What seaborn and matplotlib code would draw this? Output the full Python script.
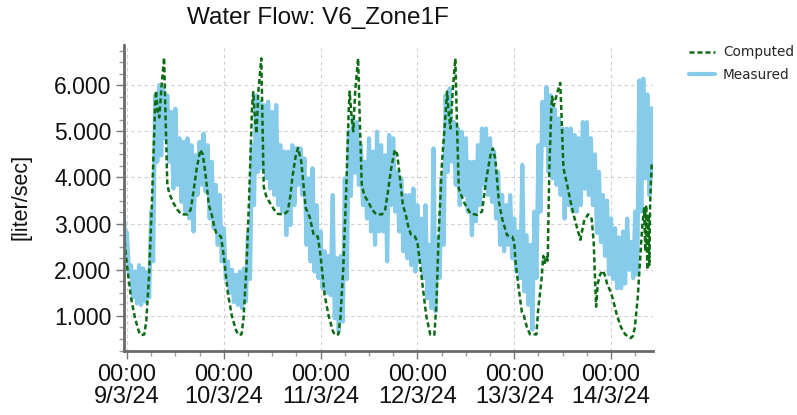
import numpy as np
import pandas as pd
import matplotlib
matplotlib.use("Agg")
import matplotlib.pyplot as plt
import matplotlib.dates as mdates
from matplotlib.ticker import FuncFormatter, MultipleLocator
import seaborn as sns

# ---------------- data ----------------
title = "Water Flow: V6_Zone1F"
y_label = "[liter/sec]"
series_names = ["Computed", "Measured"]
origin = "2024-03-09 00:00"          # hours below are counted from here

computed_hours = [
    -0.75, 0.0, 1.0, 2.0, 3.0, 3.5, 4.3, 4.8, 5.5, 6.2, 7.0, 7.2, 7.6, 8.0, 8.6, 9.2, 9.6, 10.0, 10.5, 11.5,
    12.5, 13.5, 15.0, 15.8, 16.5, 17.3, 18.2, 18.8, 19.5, 20.3, 21.0, 21.6, 22.2, 23.3,
    24.0, 25.0, 26.0, 27.0, 27.6, 28.4, 28.9, 29.6, 30.3, 31.0, 31.3, 31.7, 32.1, 32.6, 33.3, 33.6, 33.9, 34.5,
    35.3, 36.5, 37.4, 39.0, 39.9, 40.5, 41.0, 41.8, 42.4, 43.2, 43.7, 44.3, 45.3, 45.8, 46.3, 47.3,
    48.0, 49.0, 50.0, 51.0, 51.5, 52.4, 52.9, 53.6, 54.3, 55.0, 55.2, 55.7, 56.1, 56.6, 57.3, 57.7, 58.2, 58.8,
    59.8, 60.8, 61.8, 63.2, 64.0, 64.7, 65.5, 66.4, 67.0, 67.6, 68.4, 69.1, 69.7, 70.4, 71.4,
    72.0, 72.7, 73.5, 74.2, 74.8, 75.2, 76.2, 76.7, 77.3, 78.1, 78.9, 79.35, 79.8, 80.2, 80.8, 81.4, 81.8, 82.25,
    83.5, 85.1, 86.8, 88.0, 89.1, 90.1, 90.7, 91.3, 92.2, 93.0, 94.2, 95.5,
    96.0, 96.3, 97.1, 97.9, 98.4, 99.1, 99.9, 101.5, 101.9, 102.8, 103.2, 103.6, 104.0, 104.3, 104.7, 105.2,
    105.4, 105.8, 106.7, 107.4, 107.7, 108.2, 109.1, 109.9, 110.7, 111.6, 112.4, 113.3, 114.3, 115.2, 115.7,
    116.0, 116.3, 116.7, 117.3, 118.0, 118.6, 119.0,
    120.0, 120.5, 121.5, 122.5, 123.5, 124.9, 125.4, 125.9, 126.6, 127.2, 127.7, 128.2, 128.5, 128.7, 129.0,
    129.2, 129.5, 129.7, 130.1,
]
computed_values = [
    2.78, 2.1, 1.4, 0.95, 0.65, 0.58, 0.6, 0.9, 1.9, 3.5, 5.6, 5.88, 5.45, 5.3, 6.0, 6.6, 5.2, 3.85, 3.65, 3.45,
    3.3, 3.2, 3.2, 3.3, 3.7, 4.2, 4.6, 4.5, 4.05, 3.4, 3.2, 2.95, 2.78, 2.72,
    2.3, 1.5, 1.0, 0.7, 0.59, 0.6, 0.95, 2.0, 3.6, 5.5, 5.85, 5.3, 4.95, 5.9, 6.58, 5.2, 3.8, 3.6,
    3.47, 3.3, 3.21, 3.2, 3.28, 3.6, 4.0, 4.45, 4.64, 4.35, 3.9, 3.34, 3.14, 2.95, 2.75, 2.72,
    2.3, 1.45, 1.0, 0.68, 0.59, 0.6, 0.95, 2.0, 3.6, 5.5, 5.86, 5.3, 5.0, 5.9, 6.58, 5.3, 3.85, 3.62,
    3.47, 3.3, 3.2, 3.2, 3.3, 3.7, 4.2, 4.6, 4.5, 4.05, 3.4, 3.2, 2.95, 2.76, 2.72,
    2.6, 2.1, 1.5, 1.0, 0.75, 0.59, 0.59, 1.24, 2.83, 4.34, 5.28, 5.86, 5.35, 5.06, 5.93, 6.58, 5.2, 3.76,
    3.47, 3.22, 3.19, 3.26, 3.98, 4.48, 4.63, 4.41, 3.47, 3.11, 2.75, 2.72,
    2.6, 2.2, 1.6, 1.08, 1.0, 0.77, 0.6, 0.6, 1.1, 1.82, 2.3, 2.15, 2.3, 2.2, 4.2, 5.5,
    5.75, 5.55, 5.85, 6.05, 5.4, 4.2, 3.85, 3.5, 3.2, 2.9, 2.65, 3.05, 3.2, 3.1, 2.6,
    1.86, 1.2, 1.7, 1.9, 1.98, 1.85, 1.7,
    1.5, 1.35, 1.0, 0.75, 0.6, 0.52, 0.56, 0.75, 1.38, 2.2, 2.9, 3.33, 2.4, 3.4, 2.0,
    3.2, 2.1, 3.47, 4.34,
]

# Measured: hourly envelope (high / low), first entry = 8/3/24 23:00
measured_start = "2024-03-08 23:00"
measured_hi = [
    3.5,
    2.8, 2.1, 1.96, 2.1, 2.03, 1.95, 3.26, 5.78, 6.0, 5.93, 5.78, 5.42, 5.49, 4.85, 4.77, 4.85, 4.7, 4.48, 4.77, 4.95, 4.7, 4.34, 3.84, 3.62,
    2.9, 2.18, 2.0, 1.89, 1.96, 2.03, 2.8, 4.7, 5.78, 5.64, 5.57, 5.64, 5.42, 5.57, 4.7, 4.56, 4.56, 4.7, 4.63, 4.63, 4.41, 3.98, 4.2, 3.4,
    2.83, 2.4, 2.3, 3.62, 2.25, 2.3, 3.98, 5.0, 5.3, 5.2, 4.7, 4.34, 4.85, 4.56, 4.99, 4.7, 4.48, 4.92, 4.85, 4.12, 3.98, 3.62, 3.62, 3.76,
    3.4, 3.11, 3.4, 2.54, 4.63, 2.68, 3.98, 5.78, 5.93, 5.2, 5.06, 4.99, 4.85, 4.34, 4.34, 4.7, 5.06, 5.06, 4.85, 4.56, 4.12, 3.62, 3.4, 3.62,
    3.11, 2.83, 4.27, 2.75, 2.54, 3.26, 4.7, 5.64, 5.96, 5.78, 5.49, 5.28, 5.06, 5.06, 5.06, 4.92, 4.85, 5.2, 5.2, 4.85, 4.5, 4.12, 3.62, 3.5,
    3.11, 2.9, 2.7, 2.83, 3.11, 2.6, 3.26, 6.1, 6.14, 5.8, 5.5,
]
measured_lo = [
    2.8,
    1.9, 1.4, 1.27, 1.24, 1.31, 1.4, 2.18, 4.34, 4.48, 4.85, 4.34, 3.76, 3.84, 3.47, 3.26, 3.11, 2.83, 3.62, 3.84, 3.69, 3.11, 2.9, 2.54, 2.18,
    1.8, 1.5, 1.3, 1.24, 1.17, 1.31, 1.8, 3.4, 4.12, 4.2, 3.98, 3.76, 3.62, 3.4, 3.26, 2.75, 2.97, 3.4, 3.84, 3.62, 2.54, 2.18, 1.96, 1.82,
    1.6, 1.5, 1.45, 0.95, 0.66, 0.88, 1.8, 3.6, 4.1, 3.84, 3.4, 3.11, 2.83, 2.54, 2.83, 2.83, 2.18, 3.4, 3.26, 2.83, 2.4, 2.25, 2.1, 1.96,
    2.18, 1.82, 1.38, 1.17, 1.1, 1.82, 2.54, 4.12, 4.34, 3.84, 3.4, 3.62, 3.26, 2.75, 3.05, 3.4, 3.84, 3.62, 3.47, 3.11, 2.54, 2.4, 2.54, 2.25,
    1.96, 1.82, 1.53, 1.24, 0.7, 1.82, 3.26, 4.7, 4.12, 3.98, 3.84, 3.62, 3.11, 3.4, 3.26, 3.26, 3.4, 3.76, 3.62, 3.4, 2.8, 2.6, 2.3, 1.9,
    1.8, 1.6, 1.6, 1.7, 2.0, 1.82, 1.9, 3.26, 3.98, 3.62, 4.0,
]

# ---------------- tables ----------------
t0 = pd.Timestamp(origin)
df_comp = pd.DataFrame({
    "time": t0 + pd.to_timedelta(computed_hours, unit="h"),
    "value": computed_values,
})
t_hi = pd.date_range(measured_start, periods=len(measured_hi), freq="h")
t_lo = t_hi + pd.Timedelta(minutes=30)
df_meas = pd.DataFrame({
    "time": np.ravel(np.column_stack([t_hi.values, t_lo.values])),
    "value": np.ravel(np.column_stack([measured_hi, measured_lo])),
})

# ---------------- style ----------------
sns.set_theme(style="white")
plt.rcParams["font.family"] = ["Liberation Sans", "DejaVu Sans"]
plt.rcParams["xtick.bottom"] = True
plt.rcParams["ytick.left"] = True

W, H = 797, 415
fig = plt.figure(figsize=(W / 100, H / 100), dpi=100)
ax = fig.add_axes([124 / W, 1 - 351 / H, (653 - 124) / W, (351 - 45) / H])

sns.lineplot(data=df_meas, x="time", y="value", ax=ax, color="#87cbea",
             linewidth=3.0, estimator=None, sort=False, label=series_names[1])
sns.lineplot(data=df_comp, x="time", y="value", ax=ax, color="#0d6b14",
             linewidth=1.8, estimator=None, sort=False, label=series_names[0])
ax.lines[-1].set_dashes([2.0, 1.2])

ax.set_xlim(t0 - pd.Timedelta(minutes=44), t0 + pd.Timedelta(hours=130, minutes=24))
ax.set_ylim(0.24, 6.87)

ax.xaxis.set_major_locator(mdates.DayLocator())
ax.xaxis.set_minor_locator(mdates.HourLocator(byhour=[6, 12, 18]))
ax.xaxis.set_major_formatter(FuncFormatter(
    lambda v, p: (lambda d: f"{d:%H:%M}\n{d.day}/{d.month}/{d:%y}")(mdates.num2date(v))))
ax.yaxis.set_major_locator(MultipleLocator(1))
ax.yaxis.set_minor_locator(MultipleLocator(0.25))
ax.yaxis.set_major_formatter(FuncFormatter(lambda v, p: f"{v:.3f}"))

ax.set_xlabel("")
ax.set_ylabel("")
ax.tick_params(axis="both", which="both", bottom=True, left=True, top=False, right=False)
ax.tick_params(axis="both", which="major", direction="out", length=6, width=1,
               color="#777777", labelcolor="#111111", pad=3)
ax.tick_params(axis="both", which="minor", direction="out", length=3.5, width=1,
               color="#999999")
ax.tick_params(axis="y", which="major", labelsize=16.5)
ax.tick_params(axis="x", which="major", labelsize=17, pad=3)
for lbl in ax.get_xticklabels():
    lbl.set_linespacing(1.0)

for s in ["top", "right"]:
    ax.spines[s].set_visible(False)
for s in ["left", "bottom"]:
    ax.spines[s].set_color("#6a6a6a")
    ax.spines[s].set_linewidth(2.0)

ax.grid(True, which="major", color="#cfcfcf", linewidth=0.8, linestyle=(0, (3, 3)))
ax.set_axisbelow(True)

fig.text(318 / W, 1 - 18 / H, title, ha="center", va="center", fontsize=17.5, color="#111111")
fig.text(21 / W, 1 - 197 / H, y_label, ha="center", va="center", rotation=90,
         fontsize=15.5, color="#111111")

handles, labels = ax.get_legend_handles_labels()
ax.get_legend().remove()
order = [labels.index(series_names[0]), labels.index(series_names[1])]
fig.legend([handles[i] for i in order], [labels[i] for i in order],
           loc="upper left", bbox_to_anchor=(684 / W, 1 - 40 / H), frameon=False,
           prop={"family": "DejaVu Sans", "size": 9.8}, handlelength=1.9,
           labelspacing=0.6, handletextpad=0.55, borderaxespad=0)

fig.savefig("out.png", dpi=100)
